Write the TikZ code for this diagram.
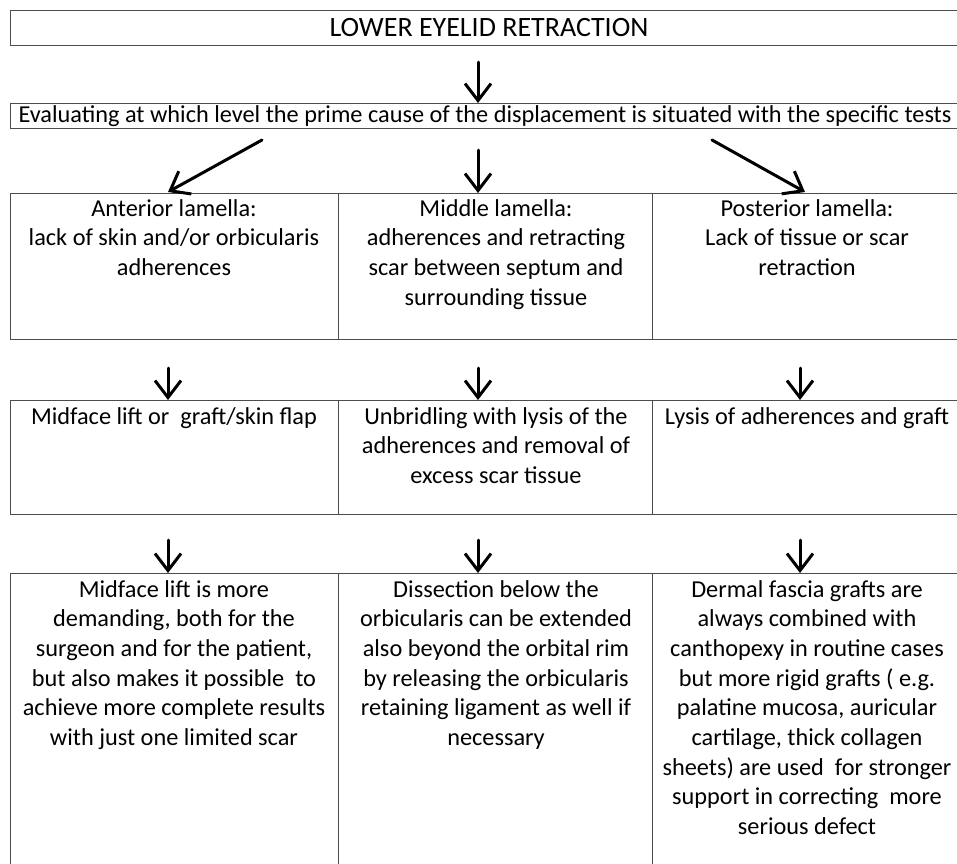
\documentclass[tikz,border=0pt]{standalone}
\usepackage{fontspec}
\setmainfont{Carlito}
\usetikzlibrary{arrows.meta}
\begin{document}
\begin{tikzpicture}[x=1pt,y=-1pt,
  box/.style={draw=black!70, line width=0.9pt, rectangle, inner sep=0pt, anchor=north west},
  txt/.style={anchor=north, align=center, inner sep=0pt, font=\fontsize{24.3}{29.7}\selectfont},
  arr/.style={-{Straight Barb[length=17pt,width=26pt,line width=3pt]}, line width=3pt, line cap=round}]
\useasboundingbox (0,0) rectangle (957,863);
\clip (0,0) rectangle (957,863);
% boxes
\node[box, minimum width=955pt, minimum height=35pt] (top) at (10,10) {};
\node[box, minimum width=955pt, minimum height=25pt] (eval) at (10,103) {};
\node[box, minimum width=328pt, minimum height=146pt] (r1a) at (10,193) {};
\node[box, minimum width=314pt, minimum height=146pt] (r1b) at (338,193) {};
\node[box, minimum width=320pt, minimum height=146pt] (r1c) at (652,193) {};
\node[box, minimum width=328pt, minimum height=114pt] (r2a) at (10,400) {};
\node[box, minimum width=314pt, minimum height=114pt] (r2b) at (338,400) {};
\node[box, minimum width=320pt, minimum height=114pt] (r2c) at (652,400) {};
\node[box, minimum width=328pt, minimum height=300pt] (r3a) at (10,573) {};
\node[box, minimum width=314pt, minimum height=300pt] (r3b) at (338,573) {};
\node[box, minimum width=320pt, minimum height=300pt] (r3c) at (652,573) {};
% texts
\node[txt, anchor=center, font=\fontsize{28}{32}\selectfont] (ttop) at (489,28) {LOWER EYELID RETRACTION};
\node[txt, anchor=center] (teval) at (485,116) {Evaluating at which level the prime cause of the displacement is situated with the specific tests};
\node[txt] (t1a) at (174,199) {Anterior lamella:\\lack of skin and/or orbicularis\\adherences};
\node[txt] (t1b) at (496,199) {Middle lamella:\\adherences and retracting\\scar between septum and\\surrounding tissue};
\node[txt] (t1c) at (807,199) {Posterior lamella:\\Lack of tissue or scar\\retraction};
\node[txt] (t2a) at (174,407) {Midface lift or\ \ graft/skin flap};
\node[txt] (t2b) at (496,407) {Unbridling with lysis of the\\adherences and removal of\\excess scar tissue};
\node[txt] (t2c) at (807,407) {Lysis of adherences and graft};
\node[txt] (t3a) at (174,580) {Midface lift is more\\demanding, both for the\\surgeon and for the patient,\\but also makes it possible\ \ to\\achieve more complete results\\with just one limited scar};
\node[txt] (t3b) at (496,580) {Dissection below the\\orbicularis can be extended\\also beyond the orbital rim\\by releasing the orbicularis\\retaining ligament as well if\\necessary};
\node[txt] (t3c) at (807,580) {Dermal fascia grafts are\\always combined with\\canthopexy in routine cases\\but more rigid grafts ( e.g.\\palatine mucosa, auricular\\cartilage, thick collagen\\sheets) are used\ \ for stronger\\support in correcting\ \ more\\serious defect};
% arrow start points
\coordinate (s0) at (478,62);
\coordinate (s1) at (262,140);
\coordinate (s2) at (478,150);
\coordinate (s3) at (712,140);
\coordinate (e1) at (168,192);
\coordinate (e3) at (805,192);
\coordinate (u1) at (168,368);
\coordinate (u2) at (478,368);
\coordinate (u3) at (800,368);
\coordinate (v1) at (168,540);
\coordinate (v2) at (478,540);
\coordinate (v3) at (800,540);
% arrows
\draw[arr] (s0) -- (s0 |- eval.north);
\draw[arr] (s1) -- (e1);
\draw[arr] (s2) -- (s2 |- r1b.north);
\draw[arr] (s3) -- (e3);
\draw[arr] (u1) -- (u1 |- r2a.north);
\draw[arr] (u2) -- (u2 |- r2b.north);
\draw[arr] (u3) -- (u3 |- r2c.north);
\draw[arr] (v1) -- (v1 |- r3a.north);
\draw[arr] (v2) -- (v2 |- r3b.north);
\draw[arr] (v3) -- (v3 |- r3c.north);
\end{tikzpicture}
\end{document}
